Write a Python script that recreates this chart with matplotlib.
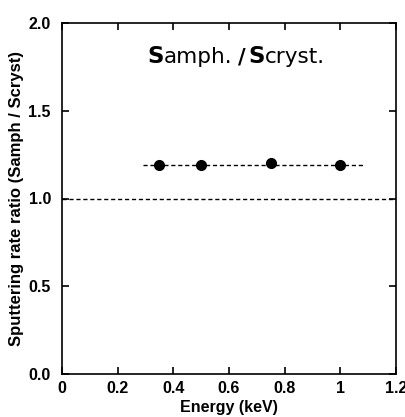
import numpy as np
import matplotlib.pyplot as plt

# --- Daten ---
energy = [0.35, 0.5, 0.75, 1.0]
ratio = [1.19, 1.19, 1.20, 1.19]
fit_x = [0.29, 1.08]
fit_y = [1.19, 1.19]
ref_level = 1.0

x_ticks = [0, 0.2, 0.4, 0.6, 0.8, 1.0, 1.2]
x_labels = ['0', '0.2', '0.4', '0.6', '0.8', '1', '1.2']
y_ticks = [0.0, 0.5, 1.0, 1.5, 2.0]
y_labels = ['0.0', '0.5', '1.0', '1.5', '2.0']

plt.rcParams['font.family'] = ['Liberation Sans', 'DejaVu Sans']

fig = plt.figure(figsize=(4.06, 4.17), dpi=100)
ax = fig.add_axes([62 / 406, 1 - 374 / 417, 334 / 406, 351 / 417])

ax.axhline(ref_level, color='black', linestyle=(0, (3, 2)), linewidth=1.0)
ax.plot(fit_x, fit_y, color='black', linestyle=(0, (3, 2)), linewidth=1.0)
ax.plot(energy, ratio, 'o', color='black', markersize=7)

ax.set_xlim(0, 1.2)
ax.set_ylim(0, 2.0)
ax.set_xticks(x_ticks)
ax.set_xticklabels(x_labels, fontweight='bold', fontsize=11.5)
ax.set_yticks(y_ticks)
ax.set_yticklabels(y_labels, fontweight='bold', fontsize=11.5)
ax.tick_params(direction='in', top=True, right=True, length=5, width=1.2)
ax.tick_params(axis='y', pad=8)
ax.tick_params(axis='x', pad=5)
for s in ax.spines.values():
    s.set_linewidth(1.2)

ax.set_xlabel('Energy (keV)', fontweight='bold', fontsize=11.5, labelpad=3)
ax.set_ylabel('Sputtering rate ratio (Samph / Scryst)', fontweight='bold', fontsize=12, labelpad=3)

# Titel im Diagramm: großes fettes S, Rest normal (breitere Schrift wie im Original)
y_t = 1.77
tf = 'DejaVu Sans'
ax.text(0.305, y_t, 'S', fontsize=16.5, fontweight='bold', family=tf, va='baseline')
ax.text(0.365, y_t, 'amph.', fontsize=15.5, family=tf, va='baseline')
ax.text(0.632, y_t, '/', fontsize=15, fontweight='bold', family=tf, va='baseline')
ax.text(0.668, y_t, 'S', fontsize=16.5, fontweight='bold', family=tf, va='baseline')
ax.text(0.730, y_t, 'cryst.', fontsize=15.5, family=tf, va='baseline')

fig.savefig('out.png', dpi=100)
